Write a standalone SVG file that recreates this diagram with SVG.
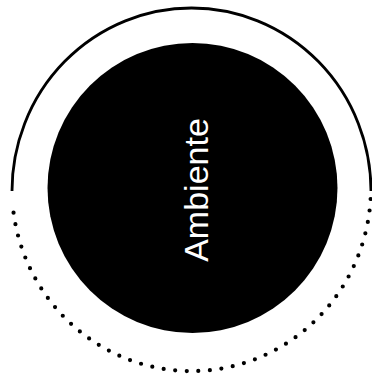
<svg xmlns="http://www.w3.org/2000/svg" width="372" height="375" viewBox="0 0 372 375">
<style>
.ring{fill:none;stroke:#000;stroke-width:2.8}
.dots{fill:none;stroke:#000;stroke-width:4.2;stroke-linecap:round;stroke-dasharray:0 11.6}
.label{font-family:"Liberation Sans",Arial,sans-serif;font-size:34px;fill:#fff;text-anchor:middle}
</style>
<rect width="372" height="375" fill="#fff"/>
<g id="outer-ring">
<path class="ring" d="M12,191 A179.5,183 0 0 1 371,191"/>
<path class="dots" d="M370.6,199 A179.5,183 0 0 1 12.4,201.5"/>
</g>
<g id="ambiente">
<circle cx="192.5" cy="188" r="145" fill="#000"/>
<text class="label" transform="translate(208,190) rotate(-90)">Ambiente</text>
</g>
</svg>
